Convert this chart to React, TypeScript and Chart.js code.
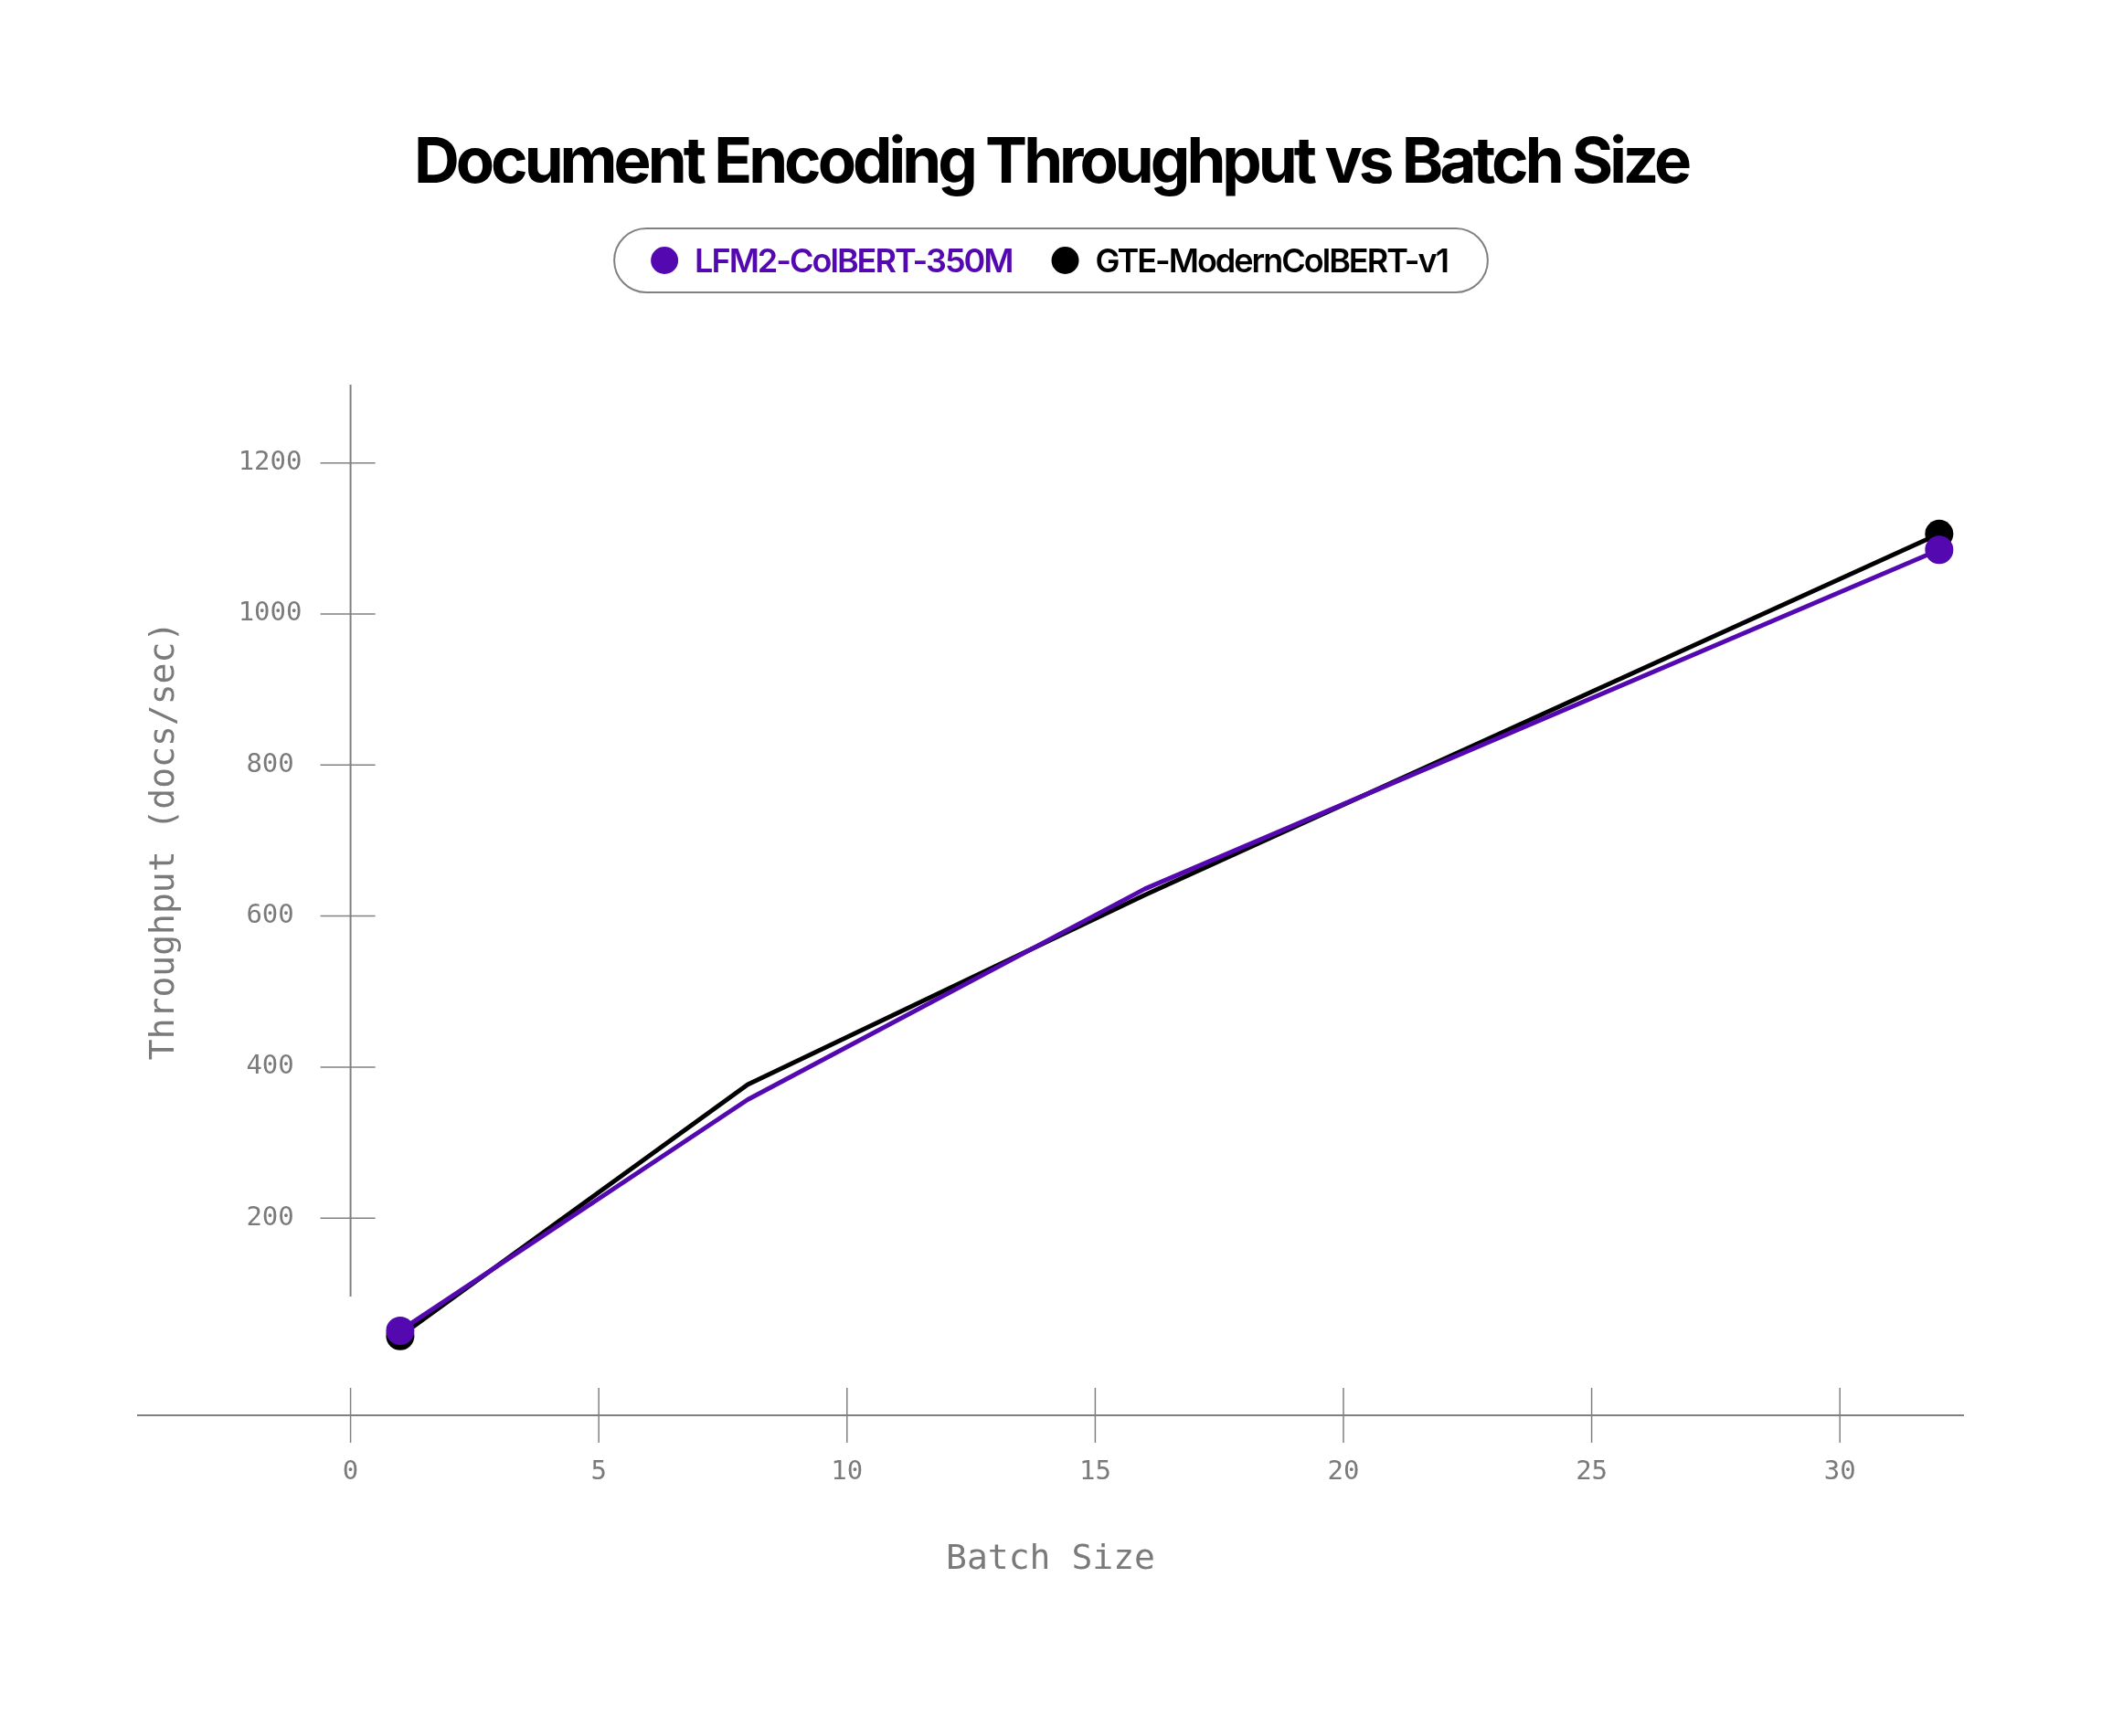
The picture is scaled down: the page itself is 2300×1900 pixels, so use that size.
import React, { useEffect, useRef } from "react";
import { Chart, registerables } from "chart.js";

Chart.register(...registerables);

// ---- data ----
const TITLE = "Document Encoding Throughput vs Batch Size";
const SERIES_NAMES = ["LFM2-ColBERT-350M", "GTE-ModernColBERT-v1"];
const SERIES_COLORS = ["#5409B0", "#000000"];
const BATCH_SIZES = [1, 8, 16, 32];
const LFM2_THROUGHPUT = [51, 357, 636, 1085];
const GTE_THROUGHPUT = [44, 377, 628, 1106];
const X_TICKS = [0, 5, 10, 15, 20, 25, 30];
const Y_TICKS = [200, 400, 600, 800, 1000, 1200];
const X_TITLE = "Batch Size";
const Y_TITLE = "Throughput (docs/sec)";

// ---- style ----
const AXIS_COLOR = "#808080";
const TEXT_GRAY = "#7a7a7a";
const MONO = '"DejaVu Sans Mono", "Liberation Mono", monospace';
const SANS = 'Inter, "Noto Sans", sans-serif';
const W = 2300;
const H = 1900;

const decorPlugin = {
  id: "decor",
  beforeDatasetsDraw(chart: any) {
    const { ctx, chartArea, scales } = chart;
    const xs = scales.x;
    const ys = scales.y;
    const xAxisY = chartArea.bottom;
    const yAxisX = xs.getPixelForValue(0);
    const yAxisBottom = chartArea.bottom - 130;
    ctx.save();
    ctx.strokeStyle = AXIS_COLOR;
    // axis lines
    ctx.lineWidth = 2;
    ctx.beginPath();
    ctx.moveTo(chartArea.left, xAxisY);
    ctx.lineTo(chartArea.right, xAxisY);
    ctx.stroke();
    ctx.beginPath();
    ctx.moveTo(yAxisX, chartArea.top);
    ctx.lineTo(yAxisX, yAxisBottom);
    ctx.stroke();
    // ticks
    ctx.lineWidth = 1.5;
    ctx.fillStyle = TEXT_GRAY;
    ctx.font = `29px ${MONO}`;
    ctx.textAlign = "center";
    ctx.textBaseline = "middle";
    X_TICKS.forEach((v) => {
      const px = xs.getPixelForValue(v);
      ctx.beginPath();
      ctx.moveTo(px, xAxisY - 30);
      ctx.lineTo(px, xAxisY + 30);
      ctx.stroke();
      ctx.fillText(String(v), px, xAxisY + 62);
    });
    Y_TICKS.forEach((v) => {
      const py = ys.getPixelForValue(v);
      ctx.beginPath();
      ctx.moveTo(yAxisX - 33, py);
      ctx.lineTo(yAxisX + 27, py);
      ctx.stroke();
      ctx.fillText(String(v), yAxisX - 88, py);
    });
    // axis titles
    ctx.font = `38px ${MONO}`;
    ctx.fillText(X_TITLE, (chartArea.left + chartArea.right) / 2, xAxisY + 158);
    ctx.save();
    ctx.translate(yAxisX - 203.5, (chartArea.top + yAxisBottom) / 2);
    ctx.rotate(-Math.PI / 2);
    ctx.fillText(Y_TITLE, 0, 0);
    ctx.restore();
    ctx.restore();
  },
  afterDraw(chart: any) {
    const { ctx } = chart;
    const cx = chart.width / 2;
    ctx.save();
    // title
    ctx.fillStyle = "#000000";
    ctx.font = `700 69px ${SANS}`;
    (ctx as any).letterSpacing = "-4px";
    ctx.textAlign = "center";
    ctx.textBaseline = "alphabetic";
    ctx.fillText(TITLE, cx, 200);
    (ctx as any).letterSpacing = "0px";

    // legend
    ctx.font = `600 36px ${SANS}`;
    (ctx as any).letterSpacing = "-2px";
    const r = 15;
    const padL = 40;
    const padR = 44;
    const gapText = 18;
    const gapItem = 43;
    const widths = SERIES_NAMES.map((n) => ctx.measureText(n).width);
    let total = padL + padR;
    widths.forEach((w, i) => {
      total += 2 * r + gapText + w + (i < widths.length - 1 ? gapItem : 0);
    });
    const top = 250;
    const bot = 320;
    const left = cx - total / 2;
    const right = cx + total / 2;
    const rad = (bot - top) / 2;
    ctx.strokeStyle = AXIS_COLOR;
    ctx.lineWidth = 2;
    ctx.beginPath();
    ctx.moveTo(left + rad, top);
    ctx.lineTo(right - rad, top);
    ctx.arc(right - rad, top + rad, rad, -Math.PI / 2, Math.PI / 2);
    ctx.lineTo(left + rad, bot);
    ctx.arc(left + rad, top + rad, rad, Math.PI / 2, (3 * Math.PI) / 2);
    ctx.closePath();
    ctx.stroke();
    let x = left + padL;
    const cy = (top + bot) / 2;
    ctx.textAlign = "left";
    ctx.textBaseline = "alphabetic";
    SERIES_NAMES.forEach((name, i) => {
      ctx.fillStyle = SERIES_COLORS[i];
      ctx.beginPath();
      ctx.arc(x + r, cy, r, 0, Math.PI * 2);
      ctx.fill();
      x += 2 * r + gapText;
      ctx.fillText(name, x, 298);
      x += widths[i] + gapItem;
    });
    (ctx as any).letterSpacing = "0px";
    ctx.restore();
  },
};

export default function App() {
  const canvasRef = useRef<HTMLCanvasElement | null>(null);

  useEffect(() => {
    const canvas = canvasRef.current;
    if (!canvas) return;
    const lastIdx = BATCH_SIZES.length - 1;
    const radius = (c: any) => (c.dataIndex === 0 || c.dataIndex === lastIdx ? 15.5 : 0);
    const series = [LFM2_THROUGHPUT, GTE_THROUGHPUT];
    const chart = new Chart(canvas, {
      type: "line",
      data: {
        datasets: series.map((vals, i) => ({
          label: SERIES_NAMES[i],
          data: BATCH_SIZES.map((b, j) => ({ x: b, y: vals[j] })),
          borderColor: SERIES_COLORS[i],
          backgroundColor: SERIES_COLORS[i],
          pointBackgroundColor: SERIES_COLORS[i],
          pointBorderWidth: 0,
          pointRadius: radius,
          pointHoverRadius: radius,
          borderWidth: 5,
          borderJoinStyle: "round",
          tension: 0,
          fill: false,
          clip: false,
        })),
      },
      options: {
        responsive: false,
        animation: false,
        devicePixelRatio: 1,
        layout: { padding: { left: 150, right: 151, top: 421, bottom: 351 } },
        plugins: {
          legend: { display: false },
          title: { display: false },
          tooltip: { enabled: false },
        },
        events: [],
        scales: {
          x: { type: "linear", min: -4.3, max: 32.5, display: false },
          y: { type: "linear", min: -61, max: 1303.6, display: false },
        },
      },
      plugins: [decorPlugin],
    } as any);
    return () => chart.destroy();
  }, []);

  return (
    <div style={{ position: "absolute", left: 0, top: 0, width: W, height: H, background: "#ffffff" }}>
      <canvas ref={canvasRef} width={W} height={H} style={{ width: W, height: H, display: "block" }} />
    </div>
  );
}
